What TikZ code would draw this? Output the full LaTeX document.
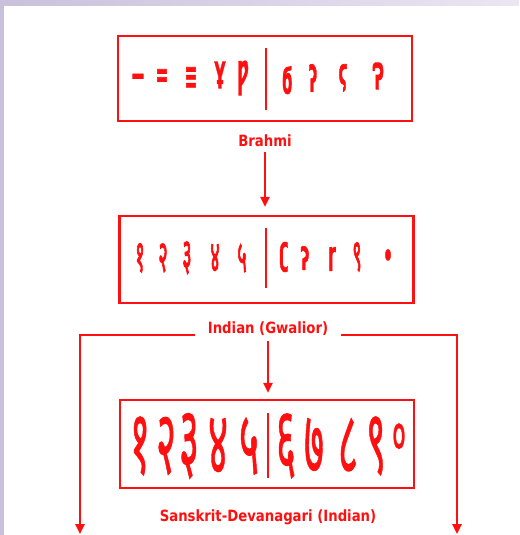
\documentclass[tikz,border=0pt]{standalone}
\usepackage{fontspec}
\usetikzlibrary{arrows.meta}
\newfontfamily\labfont{DejaVu Sans Condensed}
\newfontfamily\symfont[FakeBold=2]{DejaVu Sans}
\newfontfamily\deva[Script=Devanagari, FakeBold=3]{Noto Sans}
\newfontfamily\devabig[Script=Devanagari, FakeBold=1]{Noto Sans}
\definecolor{dred}{RGB}{255,16,16}
\definecolor{lav}{RGB}{201,192,220}
\definecolor{lavl}{RGB}{234,230,242}
\tikzset{
  boxnode/.style={draw=dred, line width=2.4pt, minimum width=294pt, minimum height=85pt, inner sep=0pt},
  lab/.style={text=dred, font=\labfont\bfseries\fontsize{15.5}{15.5}\selectfont, xscale=0.95, inner sep=1pt},
  conn/.style={draw=dred, line width=2.4pt},
  arr/.style={conn, -{Triangle[width=9pt,length=10pt]}},
  divider/.style={draw=dred, line width=1.8pt},
  gA/.style={text=dred, font=\symfont\bfseries\fontsize{33}{33}\selectfont, xscale=0.45, yscale=1.1, inner sep=0pt},
  gB/.style={text=dred, font=\deva\bfseries\fontsize{40}{40}\selectfont, xscale=0.45, yscale=1.1, inner sep=0pt},
  gBs/.style={text=dred, font=\symfont\bfseries\fontsize{31}{31}\selectfont, xscale=0.5, inner sep=0pt},
  gC/.style={text=dred, font=\devabig\fontsize{64}{64}\selectfont, xscale=0.6, yscale=1.4, inner sep=0pt}
}
\begin{document}
\begin{tikzpicture}[x=1pt,y=-1pt]
\useasboundingbox (0,0) rectangle (519,535);
\fill[white] (0,0) rectangle (519,535);
\shade[left color=lav, right color=lavl] (0,0) rectangle (519,6);
\fill[lav] (0,0) rectangle (4,535);

% boxes
\node[boxnode] (b1) at (265,78.5) {};
\node[boxnode, minimum height=87pt] (b2) at (266.5,259.5) {};
\node[boxnode, minimum height=88pt] (b3) at (267,444) {};
\draw[divider] (266,48) -- (266,110);
\draw[divider] (266,228) -- (266,288);
\draw[divider] (268,413) -- (268,478);

% labels
\node[lab] (l1) at (265,141) {Brahmi};
\node[lab] (l2) at (268,329) {Indian (Gwalior)};
\node[lab] (l3) at (268,517) {Sanskrit-Devanagari (Indian)};

% box 1 glyphs (Brahmi)
\node[gA, xscale=1.8] (a1) at (138,80) {–};
\node[gA] (a2) at (162,78) {=};
\node[gA] (a3) at (191,78) {≡};
\node[gA] (a4) at (220,75) {Ұ};
\node[gA] (a5) at (243,78) {Ƿ};
\node[gA] (a6) at (287,80) {ϭ};
\node[gA] (a7) at (313,78) {ʔ};
\node[gA] (a8) at (343,78) {ϛ};
\node[gA] (a9) at (378,76) {Ɂ};

% box 2 glyphs (Gwalior)
\node[gB] (c1) at (140,258) {१};
\node[gB] (c2) at (163,258) {२};
\node[gB] (c3) at (187,258) {३};
\node[gB] (c4) at (215,258) {४};
\node[gB] (c5) at (242,258) {५};
\node[gBs] (c6) at (284,257) {ʗ};
\node[gBs] (c7) at (305,258) {ʔ};
\node[gBs] (c8) at (332,259) {ɼ};
\node[gB] (c9) at (357,257) {९};
\node[gBs] (c0) at (388,258) {•};

% box 3 glyphs (Devanagari)
\node[gC] (d1) at (140,446) {१};
\node[gC] (d2) at (166,446) {२};
\node[gC] (d3) at (189,446) {३};
\node[gC] (d4) at (218,446) {४};
\node[gC] (d5) at (249,446) {५};
\node[gC] (d6) at (286,446) {६};
\node[gC] (d7) at (314,446) {७};
\node[gC] (d8) at (348,446) {८};
\node[gC] (d9) at (376,446) {९};
\node[gC, scale=0.7] (d0) at (399,440) {०};

% connectors
\coordinate (hl) at (80,335);
\coordinate (hr) at (457,335);
\coordinate (el) at (80,534);
\coordinate (er) at (457,534);
\draw[arr, shorten >=8pt] (l1.south) ++(0,4) -- (l1.south |- b2.north);
\draw[arr, shorten >=6pt] (l2.south) ++(0,4) -- (l2.south |- b3.north);
\draw[arr] ([xshift=-12pt]l2.west |- hl) -- (hl) -- (el);
\draw[arr] ([xshift=12pt]l2.east |- hr) -- (hr) -- (er);
\end{tikzpicture}
\end{document}
